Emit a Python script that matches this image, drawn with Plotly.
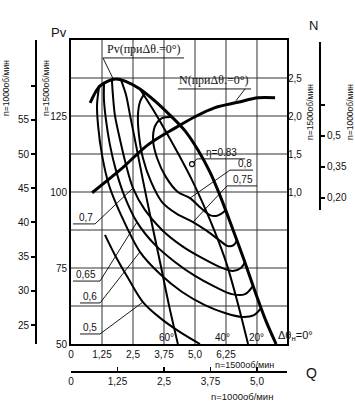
import plotly.graph_objects as go

# ---------------- tick data ----------------
q_ticks = [0, 1.25, 2.5, 3.75, 5.0, 6.25, 7.5]
q_ticktext = ["0", "1,25", "2,5", "3,75", "5,0", "6,25", " "]
pv_ticks = [50, 62.5, 75, 87.5, 100, 112.5, 125, 137.5]
pv_ticktext = ["50", " ", "75", " ", "100", " ", "125", " "]
n_ticks = [1.0, 1.5, 2.0, 2.5]
n_ticktext = ["1,0", "1,5", "2,0", "2,5"]
q1000_ticks = [0, 1.25, 2.5, 3.75, 5.0]
q1000_ticktext = ["0", "1,25", "2,5", "3,75", "5,0"]
pv1000_ticks = [25, 30, 35, 40, 45, 50, 55, 60]
pv1000_ticktext = ["25", "30", "35", "40", "45", "50", "55", " "]
n1000_ticks = [0.20, 0.35, 0.5, 0.65]
n1000_ticktext = ["0,20", "0,35", "0,5", " "]

# ---------------- curve data (Q at n=1500, Pv at n=1500) ----------------
env_q = [0.77, 0.97, 1.17, 1.49, 1.81, 2.18, 2.78, 3.39, 3.99, 4.60, 5.12, 5.60, 6.05, 6.49, 6.98, 7.46, 7.86, 8.27]
env_pv = [129.3, 132.6, 134.9, 136.5, 137.2, 136.5, 133.9, 129.9, 125.3, 120.1, 113.8, 106.6, 98.0, 88.5, 77.6, 66.4, 57.6, 50.0]

n_q = [0.85, 1.98, 3.10, 4.19, 5.00, 5.81, 6.73, 7.54, 8.23]
n_val = [0.99, 1.29, 1.62, 1.84, 1.99, 2.11, 2.18, 2.24, 2.24]

angle60_q = [2.02, 2.22, 2.38, 2.62, 2.90, 3.23, 3.59, 3.95, 4.31]
angle60_pv = [136.8, 131.9, 125.3, 115.5, 103.9, 90.8, 77.0, 62.8, 50.0]

angle40_q = [2.78, 3.27, 3.79, 4.31, 4.88, 5.40, 5.85, 6.25, 6.69, 7.14]
angle40_pv = [133.9, 127.6, 120.4, 112.8, 103.9, 94.7, 85.9, 77.0, 64.5, 50.0]

eta80_q = [4.07, 3.67, 3.39, 3.31, 3.47, 3.83, 4.31, 4.80, 5.24, 5.60, 5.85, 6.05, 6.25]
eta80_pv = [124.7, 124.3, 121.7, 117.1, 111.2, 104.9, 100.0, 98.0, 94.7, 92.4, 92.1, 92.8, 94.1]

eta75_q = [2.98, 2.78, 2.70, 2.74, 2.90, 3.23, 3.67, 4.27, 4.92, 5.48, 5.97, 6.33, 6.57, 6.69]
eta75_pv = [132.6, 129.6, 125.3, 118.8, 111.2, 103.3, 96.7, 92.8, 90.1, 87.2, 84.2, 82.2, 82.6, 84.2]

eta70_q = [1.65, 1.69, 1.77, 1.98, 2.22, 2.50, 2.98, 3.67, 4.48, 5.28, 6.01, 6.53, 6.85, 7.02]
eta70_pv = [136.8, 131.9, 125.3, 117.1, 108.9, 101.3, 94.1, 87.5, 82.2, 78.3, 75.3, 74.0, 75.0, 77.0]

eta65_q = [1.33, 1.33, 1.41, 1.57, 1.81, 2.14, 2.66, 3.39, 4.19, 5.00, 5.81, 6.49, 7.02, 7.34]
eta65_pv = [135.5, 130.3, 123.7, 115.5, 107.2, 99.0, 90.1, 82.6, 77.0, 72.4, 68.8, 66.4, 66.4, 69.1]

eta60_q = [1.13, 1.05, 1.09, 1.25, 1.53, 2.02, 2.78, 3.59, 4.48, 5.40, 6.21, 6.90, 7.38, 7.66]
eta60_pv = [134.5, 128.6, 122.0, 112.2, 102.3, 92.4, 80.3, 73.0, 67.1, 62.8, 60.2, 58.9, 59.5, 61.8]

eta50_q = [1.37, 1.77, 2.30, 2.90, 3.59, 4.40, 5.20]
eta50_pv = [85.9, 79.3, 71.7, 63.8, 58.6, 53.9, 50.0]

eta83_q = [4.88]
eta83_pv = [109.2]

FONT = "Liberation Sans, Arial, sans-serif"
SERIF = "Liberation Serif, Times New Roman, serif"
BLK = "#000000"
GRID = "#333333"

fig = go.Figure()

def curve(xs, ys, w=2, yaxis="y"):
    fig.add_trace(go.Scatter(x=xs, y=ys, mode="lines", yaxis=yaxis,
                             line=dict(color=BLK, width=w, shape="spline", smoothing=0.9),
                             hoverinfo="skip", showlegend=False))

for qs, ps in [(eta80_q, eta80_pv), (eta75_q, eta75_pv), (eta70_q, eta70_pv),
               (eta65_q, eta65_pv), (eta60_q, eta60_pv), (eta50_q, eta50_pv),
               (angle60_q, angle60_pv), (angle40_q, angle40_pv)]:
    curve(qs, ps, 2)
curve(env_q, env_pv, 3)
curve(n_q, n_val, 3, yaxis="y2")

fig.add_trace(go.Scatter(x=eta83_q, y=eta83_pv, mode="markers",
                         marker=dict(size=5, color="white", line=dict(color=BLK, width=1.2)),
                         hoverinfo="skip", showlegend=False))

# dummy traces to activate secondary axes
fig.add_trace(go.Scatter(x=[0], y=[30], xaxis="x2", yaxis="y3", mode="markers",
                         marker=dict(opacity=0), hoverinfo="skip", showlegend=False))
fig.add_trace(go.Scatter(x=[0], y=[0.2], yaxis="y4", mode="markers",
                         marker=dict(opacity=0), hoverinfo="skip", showlegend=False))

# ---------------- layout geometry ----------------
W, H = 355, 403
ML, MR, MT, MB = 36, 35, 40, 31
PW, PH = W - ML - MR, H - MT - MB
x_dom = [(71 - ML) / PW, (287 - ML) / PW]
y_dom = [(H - MB - 344) / PH, 1.0]

def px(xp):
    return (xp - ML) / PW

def py(yp):
    return (H - MB - yp) / PH

QMAX = 8.71
tickfont = dict(family=FONT, size=10, color="#111")

fig.update_layout(
    width=W, height=H, autosize=False,
    margin=dict(l=ML, r=MR, t=MT, b=MB, pad=0),
    paper_bgcolor="white", plot_bgcolor="rgba(0,0,0,0)",
    showlegend=False,
    xaxis=dict(domain=x_dom, range=[0, QMAX], tickvals=q_ticks, ticktext=q_ticktext,
               showgrid=False, zeroline=False,
               showline=True, linecolor=BLK, linewidth=2, mirror=True, ticks="",
               tickfont=tickfont, anchor="y", automargin=False),
    yaxis=dict(domain=y_dom, range=[50, 150], tickvals=pv_ticks, ticktext=pv_ticktext,
               showgrid=False, zeroline=False,
               showline=True, linecolor=BLK, linewidth=2, mirror=True, ticks="",
               tickfont=tickfont, anchor="x", automargin=False),
    yaxis2=dict(overlaying="y", side="right", anchor="x", range=[-1, 3],
                tickvals=n_ticks, ticktext=n_ticktext, showgrid=False, zeroline=False,
                showline=False, ticks="", tickfont=tickfont, automargin=False),
    xaxis2=dict(overlaying="x", anchor="free", position=0, side="bottom",
                range=[0, QMAX / 1.5], tickvals=q1000_ticks, ticktext=q1000_ticktext,
                showgrid=False, zeroline=False, showline=True, linecolor=BLK, linewidth=2,
                ticks="inside", ticklen=4, tickwidth=1.5, tickcolor=BLK, tickfont=tickfont,
                automargin=False),
    yaxis3=dict(overlaying="y", anchor="free", position=0, side="left",
                range=[50 * 4 / 9, 150 * 4 / 9], tickvals=pv1000_ticks, ticktext=pv1000_ticktext,
                showgrid=False, zeroline=False, showline=True, linecolor=BLK, linewidth=2,
                ticks="outside", ticklen=4, tickwidth=2, tickcolor=BLK, tickfont=tickfont,
                automargin=False),
    yaxis4=dict(overlaying="y", anchor="free", position=1, side="right",
                range=[-0.5065, 0.9645], tickvals=n1000_ticks, ticktext=n1000_ticktext,
                showgrid=False, zeroline=False, showline=False,
                ticks="outside", ticklen=4, tickwidth=2, tickcolor=BLK, tickfont=tickfont,
                automargin=False),
)

shapes = []
# grid lines at the tick positions
for q in q_ticks[1:]:
    shapes.append(dict(type="line", xref="x", yref="y", x0=q, x1=q, y0=50, y1=150,
                       layer="below", line=dict(color=GRID, width=1)))
for p in pv_ticks[1:]:
    shapes.append(dict(type="line", xref="x", yref="y", x0=0, x1=QMAX, y0=p, y1=p,
                       layer="below", line=dict(color=GRID, width=1)))
# N (n=1000) axis line (partial)
shapes.append(dict(type="line", xref="paper", yref="paper", x0=1, x1=1, y0=py(42), y1=py(210),
                   line=dict(color=BLK, width=2)))

def seg(x0, y0, x1, y1, w=0.9):
    shapes.append(dict(type="line", xref="x", yref="y", x0=x0, y0=y0, x1=x1, y1=y1,
                       line=dict(color=BLK, width=w)))

# label underlines and leaders (in Q / Pv units)
seg(1.29, 144.1, 4.56, 144.1); seg(1.29, 144.1, 1.69, 137.4)          # Pv label
seg(4.31, 133.9, 7.26, 133.9); seg(7.02, 133.9, 6.65, 130.0)          # N label
seg(5.08, 110.9, 7.02, 110.9); seg(5.08, 110.9, 4.92, 109.6)          # eta 0.83
seg(6.41, 107.2, 7.34, 107.2); seg(6.41, 107.2, 4.80, 98.0)           # 0,8
seg(6.29, 102.0, 7.50, 102.0); seg(6.29, 102.0, 4.92, 90.1)           # 0,75
seg(0.08, 89.5, 0.97, 89.5); seg(0.97, 89.5, 2.50, 101.3)             # 0,7
seg(0.08, 70.7, 1.17, 70.7); seg(1.17, 70.7, 2.66, 90.1)              # 0,65
seg(0.36, 63.5, 1.17, 63.5); seg(1.17, 63.5, 2.78, 80.3)              # 0,6
seg(0.36, 53.3, 1.17, 53.3); seg(1.17, 53.3, 2.90, 63.8)              # 0,5
fig.update_layout(shapes=shapes)

ann = []
def lab(x, y, text, size=10, xanchor="center", yanchor="bottom", fam=FONT, xref="x", yref="y", angle=0):
    ann.append(dict(x=x, y=y, xref=xref, yref=yref, text=text, showarrow=False,
                    xanchor=xanchor, yanchor=yanchor, textangle=angle,
                    font=dict(family=fam, size=size, color="#111"), borderpad=0))

lab(2.94, 144.3, "Pv(приΔθ.=0°)", size=12, fam=SERIF)
lab(5.77, 134.1, "N(приΔθ.=0°)", size=12, fam=SERIF)
lab(6.05, 111.0, "η=0.83", size=10)
lab(7.00, 107.3, "0,8", size=10)
lab(6.95, 102.1, "0,75", size=10)
lab(0.62, 89.6, "0,7", size=10)
lab(0.62, 70.8, "0,65", size=10)
lab(0.77, 63.6, "0,6", size=10)
lab(0.77, 53.4, "0,5", size=10)
lab(3.87, 52.0, "60°", size=10, yanchor="middle")
lab(6.09, 52.0, "40°", size=10, yanchor="middle")
lab(7.50, 52.0, "20°", size=10, yanchor="middle")
lab(8.29, 52.6, "Δθ<sub>н</sub>=0°", size=11, xanchor="left", yanchor="middle")

# axis titles and speed notes (paper coords)
lab(px(59), py(33), "Pv", size=13, xref="paper", yref="paper", yanchor="middle")
lab(px(313), py(25), "N", size=13, xref="paper", yref="paper", yanchor="middle")
lab(px(311), py(373), "Q", size=14, xref="paper", yref="paper", yanchor="middle")
lab(px(6), py(88), "n=1000об/мин", size=8.5, xref="paper", yref="paper", yanchor="middle", angle=-90)
lab(px(46), py(88), "n=1500об/мин", size=8.5, xref="paper", yref="paper", yanchor="middle", angle=-90)
lab(px(310), py(112), "n=1500об/мин", size=8.5, xref="paper", yref="paper", yanchor="middle", angle=-90)
lab(px(350), py(112), "n=1000об/мин", size=8.5, xref="paper", yref="paper", yanchor="middle", angle=-90)
lab(px(244), py(365), "n=1500об/мин", size=9, xref="paper", yref="paper", yanchor="middle")
lab(px(242), py(396), "n=1000об/мин", size=9.5, xref="paper", yref="paper", yanchor="middle")
fig.update_layout(annotations=ann)

fig.write_html("out.html", config={"displayModeBar": False, "staticPlot": True},
               post_script="document.body.style.margin='0px';document.body.style.padding='0px';document.body.style.overflow='hidden';")
